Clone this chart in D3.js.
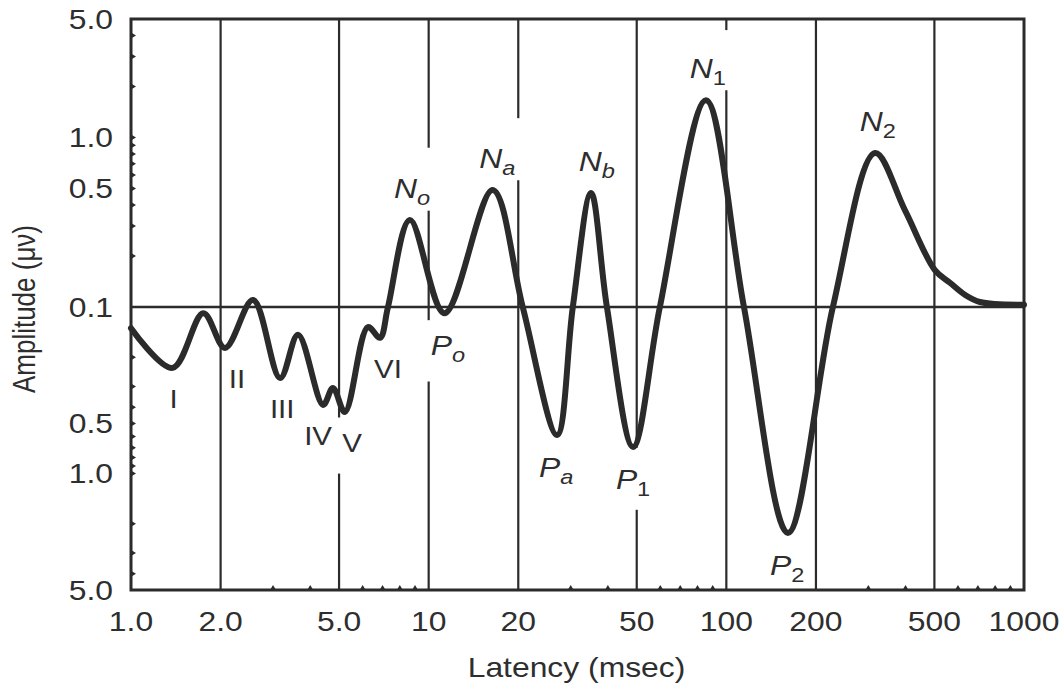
<!DOCTYPE html>
<html>
<head>
<meta charset="utf-8">
<script src="https://cdn.jsdelivr.net/npm/d3@7"></script>
<style>
  html, body { margin: 0; padding: 0; background: #fff; }
  svg text { font-family: "Liberation Sans", Arial, Helvetica, sans-serif; fill: #2e2e2e; }
</style>
</head>
<body>
<svg id="chart" width="1063" height="684"></svg>
<script>
// Auditory evoked response: latency (ms, log axis) vs amplitude (µV, log axis mirrored about 0.1)
// Positive amplitudes plot upward (N waves), negative amplitudes downward (P waves).
const latency   = [1.0, 1.38, 1.75, 2.07, 2.57, 3.17, 3.64, 4.42, 4.77, 5.23, 6.25, 6.86, 7.30, 8.65, 11.3, 16.4, 20.7, 27.0, 30.5, 35.1, 39.7, 48.6, 59.8, 85.4, 114.6, 161, 228, 316, 398, 502, 564, 633, 711, 1000];
const amplitude = [-0.134, -0.232, -0.109, -0.176, 0.110, -0.267, -0.147, -0.387, -0.306, -0.427, -0.132, -0.153, 0.1, 0.326, -0.109, 0.49, 0.1, -0.587, 0.1, 0.471, 0.1, -0.692, 0.1, 1.66, 0.1, -2.27, 0.1, 0.81, 0.373, 0.165, 0.139, 0.118, 0.107, 0.103];

// Axis ticks
const xTickValues  = [1, 2, 5, 10, 20, 50, 100, 200, 500, 1000];
const xTickLabels  = ["1.0", "2.0", "5.0", "10", "20", "50", "100", "200", "500", "1000"];
const xMinorTicks  = [3, 4, 6, 7, 8, 9, 30, 40, 60, 70, 80, 90, 300, 400, 600, 700, 800, 900];
const yTickValues  = [5, 1, 0.5, 0.1, -0.5, -1, -5];
const yTickLabels  = ["5.0", "1.0", "0.5", "0.1", "0.5", "1.0", "5.0"];
const yMinorMags   = [0.2, 0.3, 0.4, 0.5, 0.6, 0.7, 0.8, 0.9, 1, 2, 3, 4];
const gridLatencies = [2, 5, 10, 20, 50, 100, 200, 500];
// Interruptions of the vertical grid lines behind the wave names [latency, amp from, amp to]
const gridBreaks = [[5, -0.46, -1.0], [10, 0.87, 0.37], [10, -0.12, -0.28], [20, 1.3, 0.56], [50, -0.70, -1.65], [100, 4.3, 1.9]];

// Wave names: label text, subscript, latency of label centre, amplitude of the marked extremum
const waveNames = ["I", "II", "III", "IV", "V", "VI", "N", "P", "N", "P", "N", "P", "N", "P", "N"];
const waveSubs  = ["", "", "", "", "", "", "o", "o", "a", "a", "b", "1", "1", "2", "2"];
const waveLat   = [1.39, 2.27, 3.22, 4.25, 5.53, 7.30, 8.79, 11.6, 17.0, 26.8, 36.7, 48.6, 86.7, 160, 323];
const waveAmp   = [-0.232, -0.176, -0.267, -0.387, -0.427, -0.153, 0.326, -0.109, 0.49, -0.587, 0.471, -0.692, 1.66, -2.27, 0.81];

const plotL = 131, plotR = 1024, plotT = 19, plotB = 590, plotMid = 307;
const ink = "#2b2b2b";
const stretch = 1.18;   // wide lettering

const svg = d3.select("#chart");

const x = d3.scaleLog().domain([1, 1000]).range([plotL, plotR]);
// mirrored log: magnitude relative to 0.1, sign selects the half
const span = Math.log10(5 / 0.1);
const yLin = d3.scaleLinear().domain([-span, 0, span]).range([plotB, plotMid, plotT]);
const toT = v => Math.sign(v) * Math.log10(Math.max(Math.abs(v), 0.1) / 0.1);
const y = v => yLin(toT(v));

// text placed at (px, py) and widened horizontally
function wideText(px, py, size, anchor) {
  return svg.append("text")
    .attr("transform", `translate(${px},${py}) scale(${stretch},1)`)
    .attr("text-anchor", anchor).attr("font-size", size);
}

// Vertical grid lines with breaks
gridLatencies.forEach(L => {
  const breaks = gridBreaks.filter(b => b[0] === L).map(b => [y(b[1]), y(b[2])]).sort((a, b) => a[0] - b[0]);
  let y0 = plotT;
  const segs = [];
  breaks.forEach(([a, b]) => { segs.push([y0, a]); y0 = b; });
  segs.push([y0, plotB]);
  segs.forEach(([a, b]) => {
    svg.append("line").attr("x1", x(L)).attr("x2", x(L)).attr("y1", a).attr("y2", b)
      .attr("stroke", ink).attr("stroke-width", 2.2);
  });
});

// Baseline at 0.1
svg.append("line").attr("x1", plotL).attr("x2", plotR).attr("y1", y(0.1)).attr("y2", y(0.1))
  .attr("stroke", ink).attr("stroke-width", 2.4);

// Frame
svg.append("rect").attr("x", plotL).attr("y", plotT).attr("width", plotR - plotL).attr("height", plotB - plotT)
  .attr("fill", "none").attr("stroke", ink).attr("stroke-width", 3);

// Minor ticks: small inward triangles
xMinorTicks.forEach(v => {
  const cx = x(v);
  svg.append("path").attr("d", `M${cx - 3},${plotB} L${cx},${plotB - 5} L${cx + 3},${plotB} Z`).attr("fill", ink);
});
yMinorMags.forEach(m => {
  [m, -m].forEach(v => {
    const cy = y(v);
    svg.append("path").attr("d", `M${plotL},${cy - 3} L${plotL + 5},${cy} L${plotL},${cy + 3} Z`).attr("fill", ink);
  });
});

// Latency axis labels
xTickValues.forEach((v, i) => {
  wideText(x(v), 631, 27, "middle").text(xTickLabels[i]);
});

// Amplitude axis labels
yTickValues.forEach((v, i) => {
  wideText(113, y(v), 27, "end").attr("dy", "0.36em").text(yTickLabels[i]);
});

// Axis titles
wideText((plotL + plotR) / 2 - 1, 677, 27, "middle").text("Latency (msec)");
svg.append("text").attr("transform", `translate(35,${plotMid + 2}) scale(${stretch},1) rotate(-90)`)
  .attr("text-anchor", "middle").attr("font-size", 26).text("Amplitude (μν)");

// Response curve
const line = d3.line().x(d => x(d[0])).y(d => y(d[1])).curve(d3.curveCatmullRom.alpha(0.5));
svg.append("path").datum(latency.map((L, i) => [L, amplitude[i]]))
  .attr("d", line).attr("fill", "none").attr("stroke", ink).attr("stroke-width", 6)
  .attr("stroke-linejoin", "round").attr("stroke-linecap", "round");

// Wave names
waveNames.forEach((name, i) => {
  const a = waveAmp[i];
  const isRoman = waveSubs[i] === "";
  const by = a > 0 ? y(a) - 22 : y(a) + (isRoman ? 40 : 42);
  const t = wideText(x(waveLat[i]), by, isRoman ? 25 : 27, "middle");
  const main = t.append("tspan").text(name);
  if (!isRoman) main.attr("font-style", "italic");
  if (waveSubs[i]) {
    const numeric = /\d/.test(waveSubs[i]);
    t.append("tspan").attr("dy", 7).attr("font-size", 20)
      .attr("font-style", numeric ? "normal" : "italic").text(waveSubs[i]);
  }
});
</script>
</body>
</html>
